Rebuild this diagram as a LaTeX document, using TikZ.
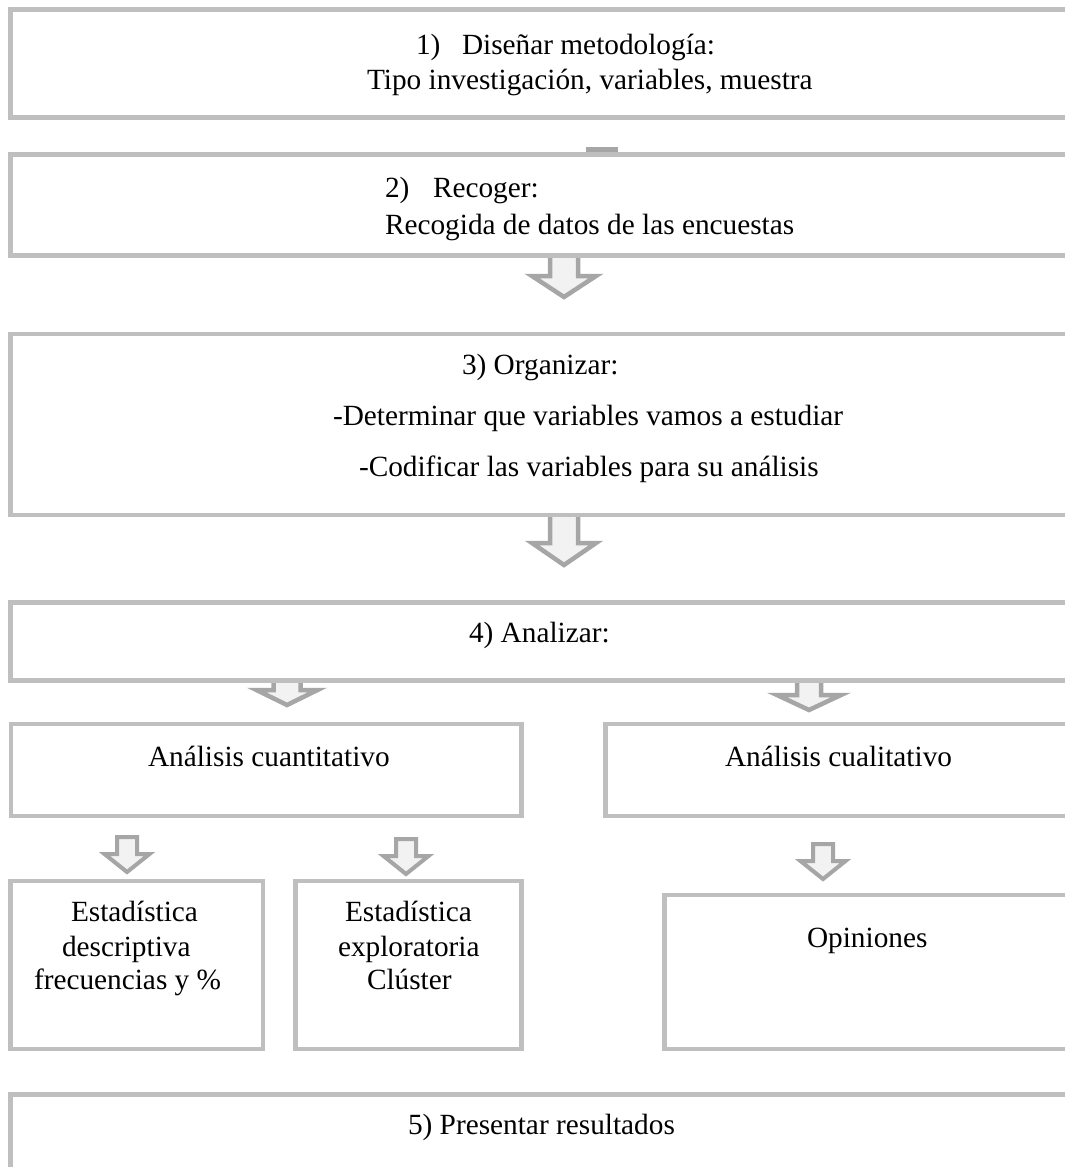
\documentclass[tikz,border=0pt]{standalone}
\usepackage{fontspec}
\setmainfont{Liberation Serif}
\definecolor{boxgray}{HTML}{BFBFBF}
\definecolor{arrgray}{HTML}{A6A6A6}
\definecolor{arrfill}{HTML}{F2F2F2}
\tikzset{
  box/.style={draw=boxgray, line width=4.5pt, fill=white},
  txt/.style={anchor=base west, inner sep=0pt, outer sep=0pt, font=\fontsize{29.3}{34}\selectfont},
  blockarr/.style={draw=arrgray, fill=arrfill, line width=4.5pt, line join=miter},
  smallarr/.style={blockarr, line width=4pt},
}
% \blkarrow[style]{cx}{top}{base}{tip}{shaft half width}{head half width}
\newcommand\blkarrow[7][blockarr]{%
  \draw[#1] ({#2-#6},#3) -- ({#2-#6},#4) -- ({#2-#7},#4) -- (#2,#5) -- ({#2+#7},#4)
    -- ({#2+#6},#4) -- ({#2+#6},#3) -- cycle;}
\begin{document}
\begin{tikzpicture}[x=1pt,y=-1pt]
\useasboundingbox (0,0) rectangle (1065,1167);
\clip (0,0) rectangle (1065,1167);
\fill[white] (0,0) rectangle (1065,1167);

% hidden arrow 1 -> 2 (only a bar shows)
\fill[arrgray] (586,147) rectangle (618,153);

% block arrows
\blkarrow{564}{250}{276}{297}{14}{32}
\blkarrow{564}{510}{543}{565}{14}{32}
\blkarrow{287}{675}{690}{705}{13.5}{30.5}
\blkarrow{809}{675}{695}{710}{12}{32}
\blkarrow[smallarr]{127}{837}{854}{872}{10}{22.5}
\blkarrow[smallarr]{406}{839}{856}{874}{10}{22.5}
\blkarrow[smallarr]{823}{844}{861}{879}{10}{22.5}

% boxes
\draw[box] (10.5,9.5) rectangle (1080,117.5);
\draw[box] (10.5,154.5) rectangle (1080,255.5);
\draw[box] (10.5,334) rectangle (1080,515);
\draw[box] (10.5,602.5) rectangle (1080,680.5);
\draw[box] (11,724) rectangle (521.5,816);
\draw[box] (605.5,724) rectangle (1080,816);
\draw[box] (10.5,881) rectangle (263,1049);
\draw[box] (295.5,881) rectangle (521.5,1049);
\draw[box] (664.5,895) rectangle (1080,1049);
\draw[box] (10.5,1094.5) rectangle (1080,1190);

% texts
\node[txt] (t1n) at (416,54.5) {1)};
\node[txt] (t1a) at (462,54.5) {Diseñar metodología:};
\node[txt] (t1b) at (367,89.5) {Tipo investigación, variables, muestra};
\node[txt] (t2n) at (385,197) {2)};
\node[txt] (t2a) at (433,197) {Recoger:};
\node[txt] (t2b) at (385,234) {Recogida de datos de las encuestas};
\node[txt] (t3a) at (462,374) {3) Organizar:};
\node[txt] (t3b) at (333,425) {-Determinar que variables vamos a estudiar};
\node[txt] (t3c) at (359,476) {-Codificar las variables para su análisis};
\node[txt] (t4) at (469,642) {4) Analizar:};
\node[txt] (tcuan) at (148,766) {Análisis cuantitativo};
\node[txt] (tcual) at (725,766) {Análisis cualitativo};
\node[txt] (te1a) at (71,921) {Estadística};
\node[txt] (te1b) at (62,956) {descriptiva};
\node[txt] (te1c) at (34,989) {frecuencias y \%};
\node[txt] (te2a) at (345,921) {Estadística};
\node[txt] (te2b) at (338,956) {exploratoria};
\node[txt] (te2c) at (367,989) {Clúster};
\node[txt] (top) at (807,947) {Opiniones};
\node[txt] (t5) at (408,1134) {5) Presentar resultados};
\end{tikzpicture}
\end{document}
